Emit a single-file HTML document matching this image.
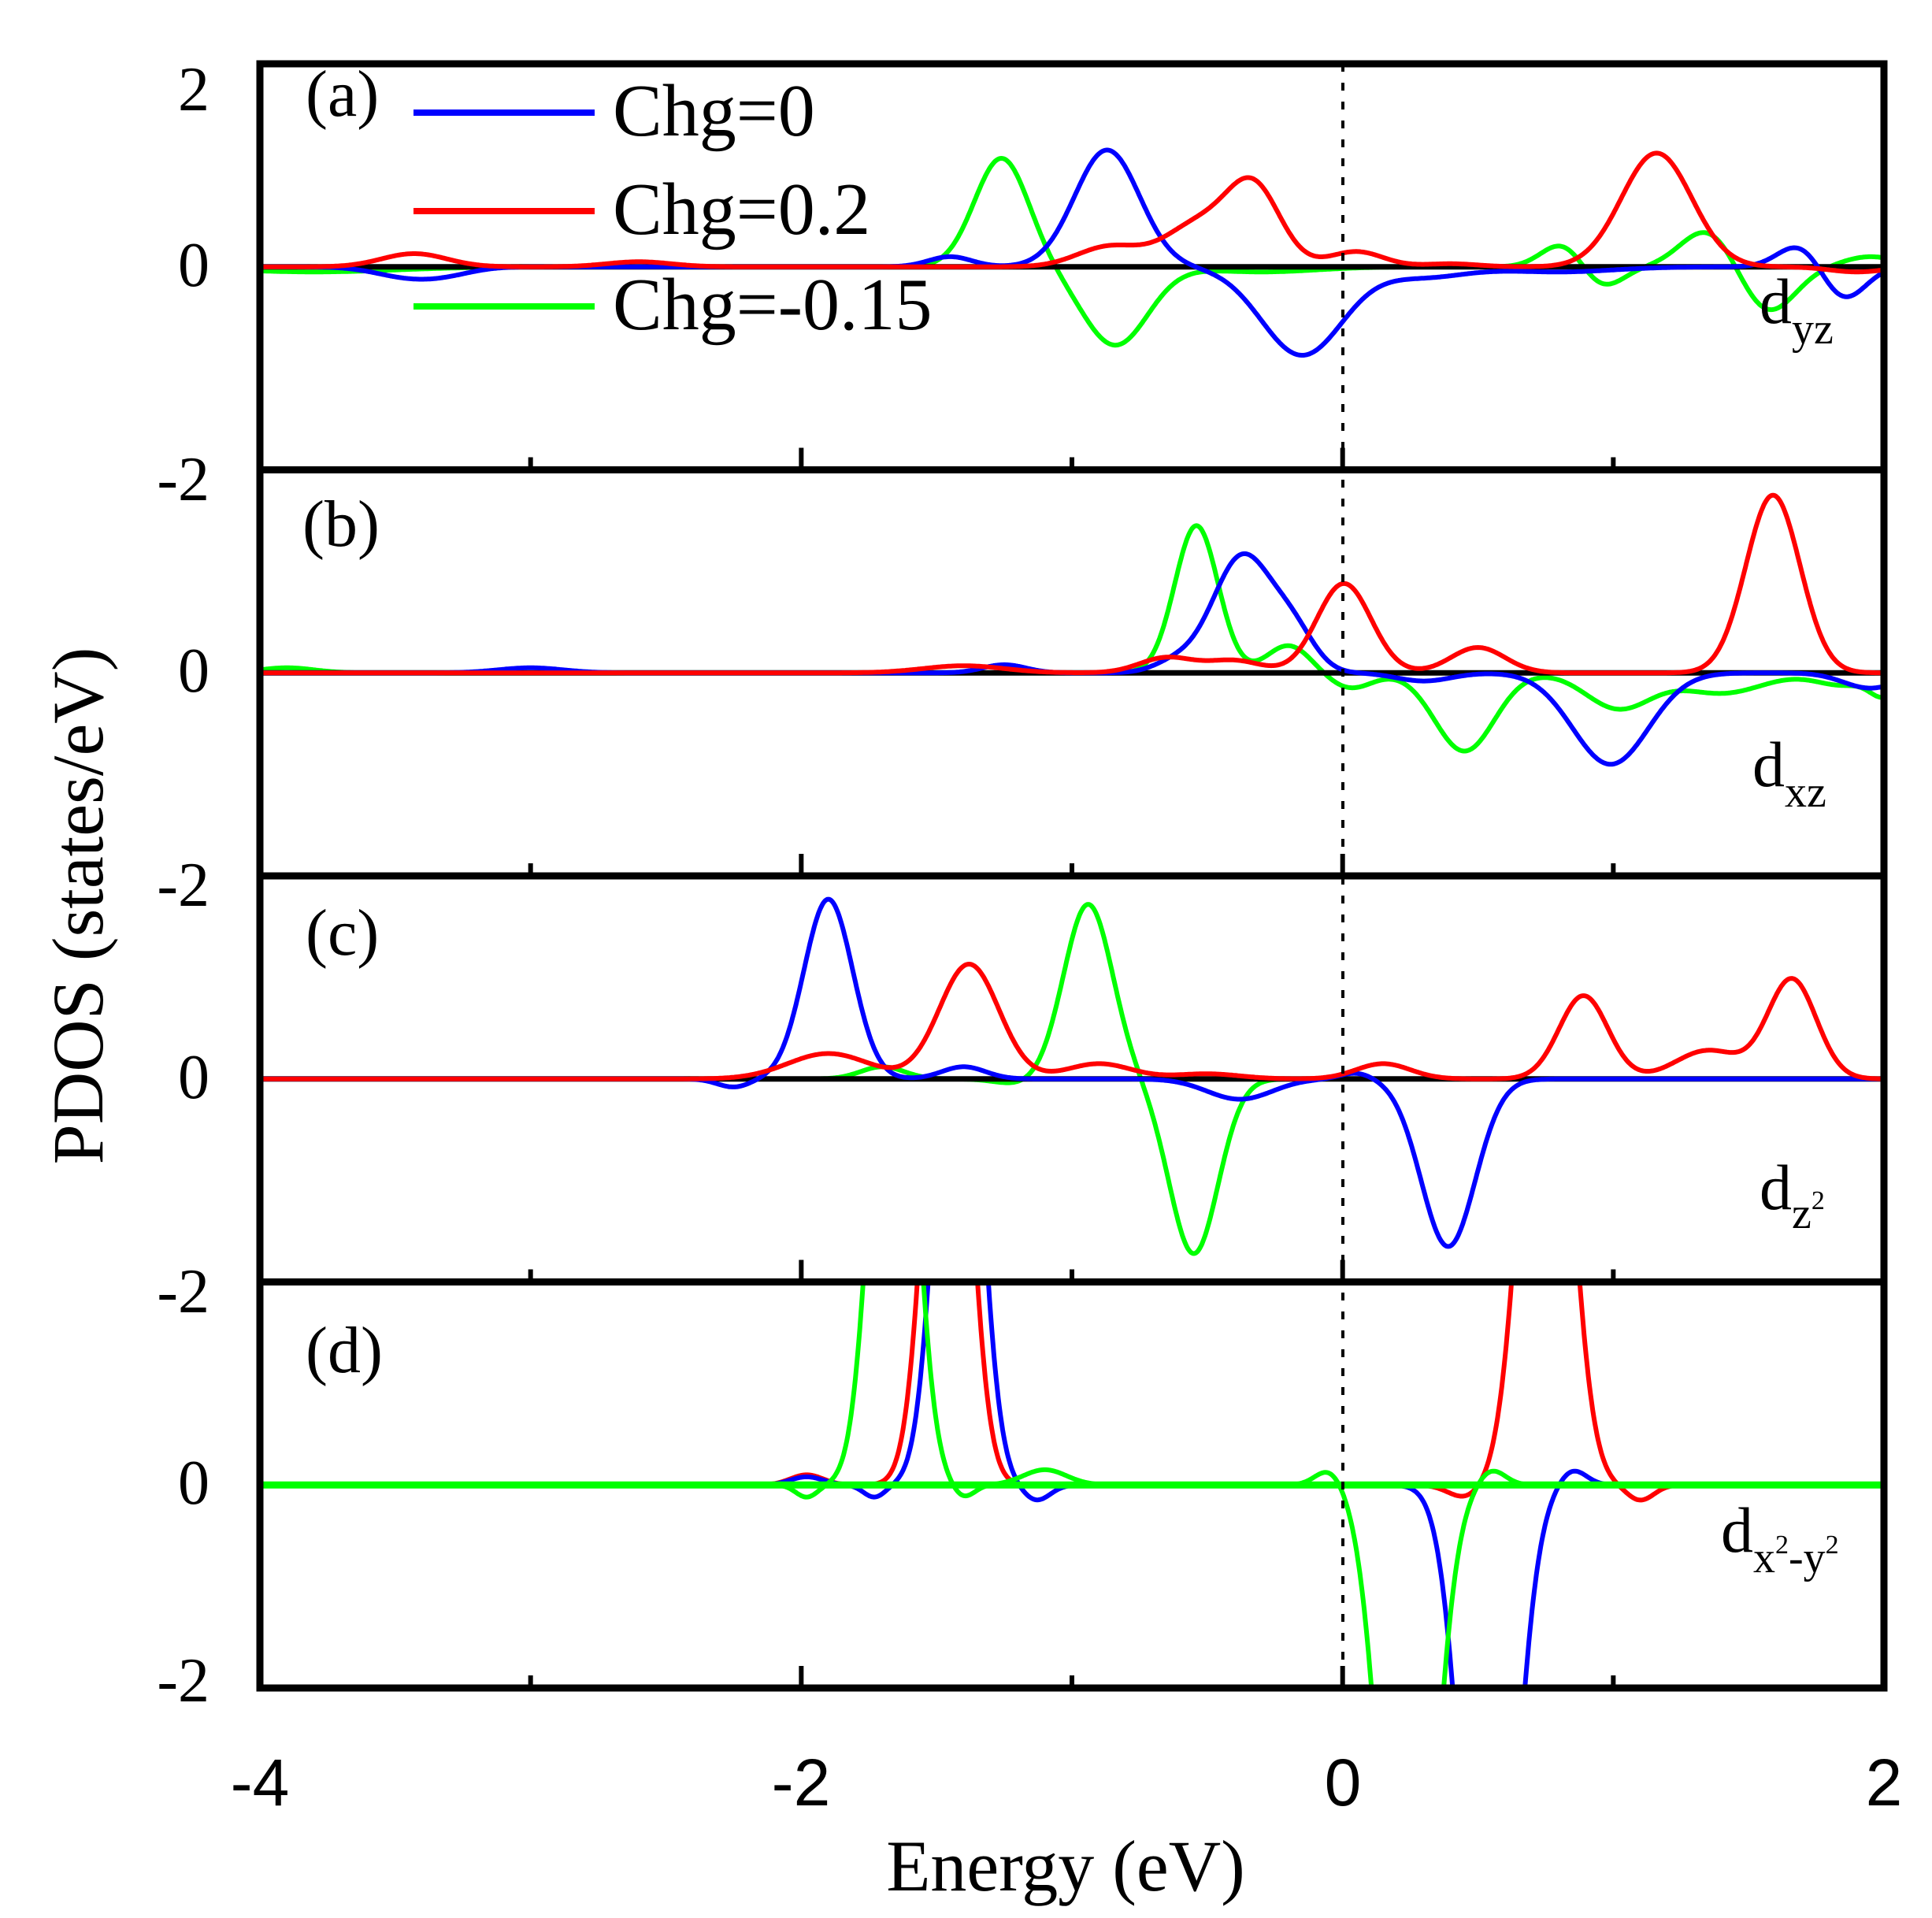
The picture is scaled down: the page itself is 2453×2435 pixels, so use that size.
<!DOCTYPE html>
<html><head><meta charset="utf-8"><style>
html,body{margin:0;padding:0;background:#fff;width:2453px;height:2435px;overflow:hidden;}
svg{display:block;}
</style></head><body>
<svg id="s" xmlns="http://www.w3.org/2000/svg" width="2453" height="2435" viewBox="0 0 2453 2435">
<rect width="2453" height="2435" fill="#fff"/>
<defs>
<clipPath id="c0"><rect x="330" y="81" width="2062" height="515.5"/></clipPath>
<clipPath id="c1"><rect x="330" y="596.5" width="2062" height="515.5"/></clipPath>
<clipPath id="c2"><rect x="330" y="1112" width="2062" height="515.5"/></clipPath>
<clipPath id="c3"><rect x="330" y="1627.5" width="2062" height="515.5"/></clipPath>
</defs>
<g id="curves"></g>
<g id="axes" fill="none" stroke="#000"></g>
<line x1="1705" y1="81" x2="1705" y2="2143" stroke="#000" stroke-width="4" stroke-dasharray="10,14"/>
<g font-family="Liberation Serif, serif" fill="#000">
<text x="388" y="147" font-size="84">(a)</text>
<text x="384" y="693" font-size="84">(b)</text>
<text x="388" y="1212" font-size="84">(c)</text>
<text x="388" y="1742" font-size="84">(d)</text>
<text x="778" y="172" font-size="94">Chg=0</text>
<text x="778" y="297" font-size="94">Chg=0.2</text>
<text x="778" y="418" font-size="94">Chg=-0.15</text>
<text x="2234" y="410" font-size="82">d<tspan font-size="56" dy="26">yz</tspan></text>
<text x="2225" y="998" font-size="82">d<tspan font-size="56" dy="26">xz</tspan></text>
<text x="2234" y="1535" font-size="82">d<tspan font-size="56" dy="24">z</tspan><tspan font-size="34" dy="-24">2</tspan></text>
<text x="2185" y="1970" font-size="82">d<tspan font-size="56" dy="26">x</tspan><tspan font-size="34" dy="-24">2</tspan><tspan font-size="56" dy="24">-y</tspan><tspan font-size="34" dy="-24">2</tspan></text>
<g font-size="80" text-anchor="end">
<text x="266" y="140">2</text>
<text x="266" y="363">0</text>
<text x="266" y="635">-2</text>
<text x="266" y="878">0</text>
<text x="266" y="1150">-2</text>
<text x="266" y="1394">0</text>
<text x="266" y="1666">-2</text>
<text x="266" y="1909">0</text>
<text x="266" y="2160">-2</text>
</g>
<g font-family="Liberation Sans, sans-serif" font-size="84" text-anchor="middle">
<text x="330" y="2292">-4</text>
<text x="1017" y="2292">-2</text>
<text x="1705" y="2292">0</text>
<text x="2392" y="2292">2</text>
</g>
<text x="1353" y="2400" font-size="92" text-anchor="middle">Energy (eV)</text>
<text transform="translate(130,1150) rotate(-90)" font-size="92" text-anchor="middle">PDOS (states/eV)</text>
</g>
<line x1="525" y1="143" x2="755" y2="143" stroke="#0000ff" stroke-width="8"/>
<line x1="525" y1="268" x2="755" y2="268" stroke="#ff0000" stroke-width="8"/>
<line x1="525" y1="389" x2="755" y2="389" stroke="#00ff00" stroke-width="8"/>
</svg>
<script>
(function(){
var NS="http://www.w3.org/2000/svg";
function X(E){return 330+(E+4)*343.67;}
var data=[
 {
  b:[[-3.45,-0.1,0.12],[-3.3,-0.05,0.1],[-1.45,0.1,0.08],[-0.87,1.15,0.12],[-0.15,-0.87,0.15],[0.3,-0.1,0.15],[1.69,0.22,0.08],[1.85,-0.32,0.08],[0.8,-0.05,0.2]],
  r:[[-3.43,0.13,0.12],[-2.6,0.05,0.12],[-0.86,0.2,0.12],[-0.54,0.4,0.12],[-0.33,0.78,0.1],[0.05,0.15,0.1],[0.4,0.03,0.1],[1.16,1.12,0.13],[1.9,-0.05,0.1]],
  g:[[-3.8,-0.05,0.3],[-1.26,1.07,0.1],[-0.84,-0.77,0.12],[-0.3,-0.05,0.2],[0.82,0.25,0.08],[0.95,-0.22,0.08],[1.35,0.37,0.1],[1.57,-0.45,0.1],[1.95,0.1,0.1]]
 },
 {
  b:[[-3.0,0.05,0.12],[-1.25,0.08,0.08],[-0.62,0.1,0.08],[-0.37,1.15,0.11],[-0.18,0.35,0.08],[0.3,-0.08,0.1],[0.99,-0.9,0.14],[1.95,-0.15,0.1]],
  r:[[-1.4,0.07,0.15],[-0.65,0.15,0.1],[-0.4,0.12,0.1],[0.005,0.88,0.1],[0.5,0.25,0.1],[1.59,1.75,0.1]],
  g:[[-3.9,0.05,0.1],[-0.54,1.45,0.08],[-0.2,0.27,0.08],[0.03,-0.15,0.08],[0.45,-0.77,0.11],[1.02,-0.35,0.12],[1.4,-0.2,0.15],[1.85,-0.12,0.1],[2.0,-0.2,0.05]]
 },
 {
  b:[[-2.25,-0.08,0.06],[-1.9,1.77,0.09],[-1.4,0.12,0.08],[-0.38,-0.2,0.12],[0.05,0.06,0.06],[0.39,-1.65,0.1]],
  r:[[-1.9,0.25,0.15],[-1.38,1.13,0.11],[-0.9,0.15,0.12],[-0.5,0.05,0.12],[0.15,0.15,0.1],[0.89,0.82,0.09],[1.35,0.28,0.12],[1.66,0.98,0.09]],
  g:[[-1.7,0.12,0.08],[-1.2,-0.05,0.08],[-0.94,1.72,0.09],[-0.55,-1.72,0.09]]
 },
 {
  b:[[-1.98,0.08,0.06],[-1.73,-0.12,0.04],[-1.42,6,0.075],[-1.13,-0.15,0.05],[0.54,-6,0.09],[0.85,0.15,0.05]],
  r:[[-1.98,0.1,0.06],[-1.46,6,0.075],[0.45,-0.12,0.06],[0.75,6,0.085],[1.1,-0.15,0.05]],
  g:[[-1.98,-0.12,0.04],[-1.66,6,0.075],[-1.4,-0.12,0.04],[-1.1,0.15,0.08],[-0.05,0.15,0.05],[0.24,-6,0.09],[0.55,0.15,0.05]]
 }
];
var cols={b:"#0000ff",r:"#ff0000",g:"#00ff00"};
var g=document.getElementById("curves");
for(var p=0;p<4;p++){
  var z=338.75+p*515.5;
  var grp=document.createElementNS(NS,"g");
  grp.setAttribute("clip-path","url(#c"+p+")");
  var order=["g","b","r"];
  if(p==3) order=["r","b","g"];
  order.forEach(function(k){
    var pk=data[p][k],d="";
    for(var E=-4;E<=2.0001;E+=0.004){
      var v=0;
      for(var i=0;i<pk.length;i++){var q=pk[i];v+=q[1]*Math.exp(-Math.pow((E-q[0])/q[2],2)/2);}
      d+=(d?"L":"M")+X(E).toFixed(1)+","+(z-v*128.9).toFixed(1);
    }
    var pa=document.createElementNS(NS,"path");
    pa.setAttribute("d",d);pa.setAttribute("fill","none");
    pa.setAttribute("stroke",cols[k]);pa.setAttribute("stroke-width","6");
    grp.appendChild(pa);
  });
  var zl=document.createElementNS(NS,"line");
  zl.setAttribute("x1",330);zl.setAttribute("x2",2392);
  zl.setAttribute("y1",z);zl.setAttribute("y2",z);
  zl.setAttribute("stroke",p==3?"#00ff00":"#000");zl.setAttribute("stroke-width",p==3?"9":"7");
  if(p==3) grp.appendChild(zl); else grp.insertBefore(zl,grp.firstChild.nextSibling);
  g.appendChild(grp);
}
var ax=document.getElementById("axes");
function L(x1,y1,x2,y2,w){var l=document.createElementNS(NS,"line");l.setAttribute("x1",x1);l.setAttribute("y1",y1);l.setAttribute("x2",x2);l.setAttribute("y2",y2);l.setAttribute("stroke-width",w);ax.appendChild(l);}
var r=document.createElementNS(NS,"rect");
r.setAttribute("x",330);r.setAttribute("y",81);r.setAttribute("width",2062);r.setAttribute("height",2062);r.setAttribute("stroke-width","9");ax.appendChild(r);
for(var p=1;p<4;p++){L(330,81+p*515.5,2392,81+p*515.5,9);}
for(var p=1;p<=4;p++){
  var yb=81+p*515.5;
  for(var E=-3;E<=1;E++){
    var len=(E%2==0)?28:16;
    L(X(E),yb,X(E),yb-len,6);
  }
}
})();
</script>
</body></html>
